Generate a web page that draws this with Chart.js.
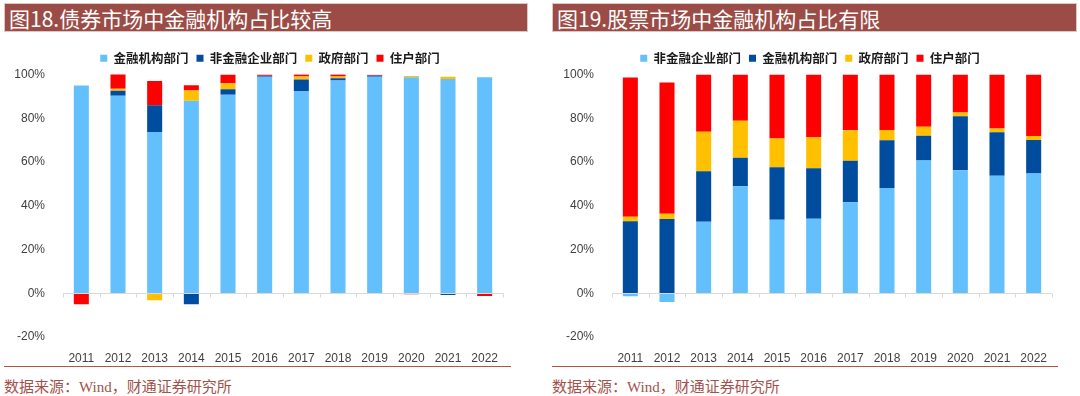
<!DOCTYPE html>
<html>
<head>
<meta charset="utf-8">
<script src="https://cdn.jsdelivr.net/npm/chart.js@4.4.0/dist/chart.umd.min.js"></script>
<style>
  body { margin: 0; width: 1080px; height: 396px; background: #fff; position: relative; overflow: hidden; }
  .title { position: absolute; top: 3px; height: 29px; line-height: 29px; background: #9c4c46; color: #fff;
           font-family: "Noto Sans CJK SC", sans-serif; font-size: 21px; padding-left: 4px; box-sizing: border-box;
           border: 1px solid #e2c4c1; }
  .sep { position: absolute; top: 366px; height: 1px; background: #b5524c; }
  .src { position: absolute; top: 377px; font-family: "Liberation Serif", "Noto Sans CJK SC", serif; font-size: 15px;
         color: #a3524b; line-height: 20px; }
  canvas { position: absolute; top: 36px; }
</style>
</head>
<body>
<div class="title" style="left:4px;width:524px;">图18.债券市场中金融机构占比较高</div>
<div class="title" style="left:552px;width:525px;">图19.股票市场中金融机构占比有限</div>
<canvas id="bondChart" width="540" height="326" style="left:0px;"></canvas>
<canvas id="stockChart" width="540" height="326" style="left:540px;"></canvas>
<div class="sep" style="left:4px;width:507px;"></div>
<div class="sep" style="left:552px;width:506px;"></div>
<div class="src" style="left:4px;">数据来源：Wind，财通证券研究所</div>
<div class="src" style="left:552px;">数据来源：Wind，财通证券研究所</div>

<script>
const years = ['2011','2012','2013','2014','2015','2016','2017','2018','2019','2020','2021','2022'];
const yTicks = [-20, 0, 20, 40, 60, 80, 100];

// 图18 债券市场 (%)
const bondNames = ['金融机构部门','非金融企业部门','政府部门','住户部门'];
const bondFin   = [95.0, 90.3, 73.7, 88.0, 90.7, 99.0, 92.5, 97.3, 99.0, 98.8, 98.0, 98.8];
const bondCorp  = [0, 2.3, 12.2, -5.0, 2.6, 0.4, 5.2, 1.0, 0.6, 0, -0.8, 0];
const bondGov   = [0, 0.9, -3.2, 4.7, 2.7, 0, 1.4, 0.8, 0, 0.5, 1.0, -0.3];
const bondHouse = [-5.0, 6.7, 11.1, 2.4, 4.0, 0.6, 1.0, 1.0, 0.3, -0.5, 0, -1.0];

// 图19 股票市场 (%)
const stockNames = ['非金融企业部门','金融机构部门','政府部门','住户部门'];
const stockCorp  = [-1.4, -4.0, 32.7, 48.9, 33.6, 34.1, 41.6, 48.1, 60.7, 56.2, 53.7, 54.8];
const stockFin   = [32.9, 34.0, 23.1, 13.1, 24.0, 23.0, 19.0, 21.9, 11.3, 24.7, 19.9, 15.3];
const stockGov   = [2.1, 2.4, 18.0, 16.9, 13.1, 14.3, 13.9, 4.6, 4.1, 1.7, 1.7, 1.8];
const stockHouse = [63.6, 59.9, 26.2, 21.1, 29.3, 28.6, 25.5, 25.4, 23.9, 17.4, 24.7, 28.1];

const lightBlue = '#64bffd';
const darkBlue = '#004c9f';
const yellow = '#ffc000';
const red = '#ff0000';

// zero line with small tick marks at category boundaries
const zeroAxis = {
    id: 'zeroAxis',
    afterDatasetsDraw(chart) {
        const xs = chart.scales.x, ys = chart.scales.y, ctx = chart.ctx;
        const y0 = Math.round(ys.getPixelForValue(0)) + 0.5;
        const step = xs.getPixelForValue(1) - xs.getPixelForValue(0);
        const start = xs.getPixelForValue(0) - step / 2;
        ctx.save();
        ctx.strokeStyle = '#d9d9d9';
        ctx.lineWidth = 1;
        ctx.beginPath();
        ctx.moveTo(chart.chartArea.left, y0);
        ctx.lineTo(chart.chartArea.right, y0);
        for (let i = 0; i <= years.length; i++) {
            const px = Math.round(start + i * step) + 0.5;
            ctx.moveTo(px, y0);
            ctx.lineTo(px, y0 + 4);
        }
        ctx.stroke();
        ctx.restore();
    }
};

function makeChart(id, names, series, colors, yWidth, rightGap) {
    const datasets = [];
    for (let i = 0; i < series.length; i++) {
        datasets.push({
            label: names[i],
            data: series[i],
            backgroundColor: colors[i],
            borderWidth: 0,
            barPercentage: 0.41,
            categoryPercentage: 1
        });
    }
    return new Chart(document.getElementById(id), {
        type: 'bar',
        data: { labels: years, datasets: datasets },
        plugins: [zeroAxis],
        options: {
            responsive: false,
            animation: false,
            layout: { padding: { left: 0, right: 0, top: 8, bottom: 0 } },
            plugins: {
                tooltip: { enabled: false },
                legend: {
                    position: 'top',
                    labels: {
                        boxWidth: 7,
                        boxHeight: 7,
                        padding: 8,
                        color: '#1a1a1a',
                        font: { family: '"Noto Sans CJK SC"', size: 12.5, weight: 'bold' }
                    }
                }
            },
            scales: {
                x: {
                    stacked: true,
                    grid: { display: false },
                    border: { display: false },
                    ticks: { color: '#3f3f3f', padding: 6, font: { family: '"Liberation Sans", Arial', size: 12 } },
                    afterFit: function(scale) { scale.height = 25; }
                },
                y: {
                    stacked: true,
                    min: -20,
                    max: 100,
                    afterBuildTicks: function(scale) { scale.ticks = yTicks.map(v => ({ value: v })); },
                    grid: { display: false },
                    border: { display: false },
                    ticks: {
                        color: '#3f3f3f',
                        padding: 10,
                        font: { family: '"Liberation Sans", Arial', size: 12 },
                        callback: v => v + '%'
                    },
                    afterFit: function(scale) { scale.width = yWidth; }
                },
                // empty right-hand space so the legend stays centred on the panel
                gap: {
                    type: 'linear',
                    position: 'right',
                    grid: { display: false },
                    border: { display: false },
                    ticks: { display: false },
                    afterFit: function(scale) { scale.width = rightGap; }
                }
            }
        }
    });
}

makeChart('bondChart', bondNames, [bondFin, bondCorp, bondGov, bondHouse],
    [lightBlue, darkBlue, yellow, red], 63, 37);
makeChart('stockChart', stockNames, [stockCorp, stockFin, stockGov, stockHouse],
    [lightBlue, darkBlue, yellow, red], 72, 28);
</script>
</body>
</html>
